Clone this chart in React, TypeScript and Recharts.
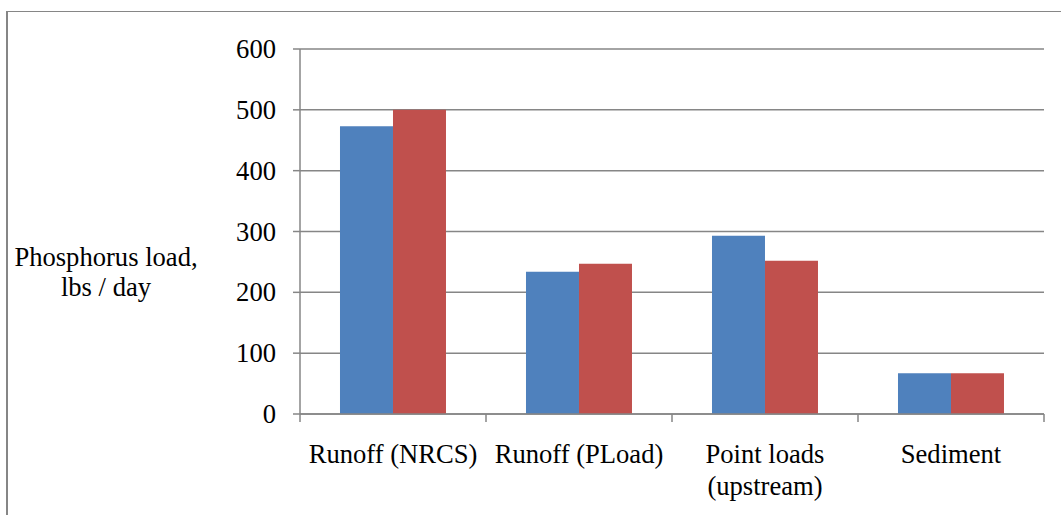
import { BarChart, Bar, XAxis, YAxis, CartesianGrid, Label } from 'recharts'

const CATEGORIAS = ['Runoff (NRCS)', 'Runoff (PLoad)', 'Point loads\n(upstream)', 'Sediment']
const SERIE_A = [473, 234, 293, 67]
const SERIE_B = [500, 247, 252, 67]
const Y_TICKS = [0, 100, 200, 300, 400, 500, 600]

const W = 1061
const H = 515
const MARGIN = { top: 49, right: 17, left: 0, bottom: 0 }
const Y_WIDTH = 300
const X_HEIGHT = 101
const PLOT_W = W - MARGIN.left - MARGIN.right - Y_WIDTH
const BAND = PLOT_W / CATEGORIAS.length

const FONT = 'Liberation Serif, Tinos, Times New Roman, Times, DejaVu Serif, serif'
const AXIS_GRAY = '#868686'
const TXT = { fontFamily: FONT, fontSize: 26.6 }

const data = CATEGORIAS.map((c, i) => ({ cat: c, a: SERIE_A[i], b: SERIE_B[i] }))

function XTick(props: any) {
  const { x, y, payload, index } = props
  const lines = String(payload.value).split('\n')
  const top = y - 8
  return (
    <g>
      <line x1={x - BAND / 2} x2={x - BAND / 2} y1={top} y2={top + 8} stroke={AXIS_GRAY} strokeWidth={1.5} />
      {index === CATEGORIAS.length - 1 && (
        <line x1={x + BAND / 2} x2={x + BAND / 2} y1={top} y2={top + 8} stroke={AXIS_GRAY} strokeWidth={1.5} />
      )}
      {lines.map((l, i) => (
        <text key={i} x={x} y={top + 40 + i * 32} textAnchor="middle" dominantBaseline="central"
          style={TXT} fill="#000">
          {l}
        </text>
      ))}
    </g>
  )
}

function YTick(props: any) {
  const { x, y, payload } = props
  return (
    <text x={x} y={y} textAnchor="end" dominantBaseline="central" style={TXT} fill="#000">
      {payload.value}
    </text>
  )
}

function YLabel(props: any) {
  const { viewBox } = props
  const cx = viewBox.x + 106
  const cy = viewBox.y + viewBox.height / 2 + 40
  return (
    <g>
      <text x={cx} y={cy - 15} textAnchor="middle" dominantBaseline="central" style={TXT} fill="#000">
        Phosphorus load,
      </text>
      <text x={cx} y={cy + 15} textAnchor="middle" dominantBaseline="central" style={TXT} fill="#000">
        lbs / day
      </text>
    </g>
  )
}

export default function App() {
  return (
    <div style={{ position: 'absolute', left: 0, top: 0, width: W, height: H, overflow: 'hidden', background: '#fff', fontFamily: FONT }}>
      <div style={{
        position: 'absolute', left: 6, top: 11, width: W + 20, height: H + 20,
        borderLeft: `2px solid ${AXIS_GRAY}`, borderTop: `1.5px solid ${AXIS_GRAY}`,
      }} />
      <div style={{ position: 'absolute', left: 0, top: 0 }}>
        <BarChart width={W} height={H} data={data} margin={MARGIN} barCategoryGap="21.5%" barGap={0}>
          <CartesianGrid vertical={false} stroke={AXIS_GRAY} strokeWidth={1.5} />
          <XAxis
            dataKey="cat"
            height={X_HEIGHT}
            interval={0}
            tickLine={false}
            axisLine={{ stroke: AXIS_GRAY, strokeWidth: 1.5 }}
            tick={<XTick />}
          />
          <YAxis
            width={Y_WIDTH}
            domain={[0, 600]}
            ticks={Y_TICKS}
            interval={0}
            tickSize={7}
            tickMargin={17}
            tickLine={{ stroke: AXIS_GRAY, strokeWidth: 1.5 }}
            axisLine={{ stroke: AXIS_GRAY, strokeWidth: 1.5 }}
            tick={<YTick />}
          >
            <Label content={<YLabel />} />
          </YAxis>
          <Bar dataKey="a" fill="#4F81BD" isAnimationActive={false} />
          <Bar dataKey="b" fill="#C0504D" isAnimationActive={false} />
        </BarChart>
      </div>
    </div>
  )
}
